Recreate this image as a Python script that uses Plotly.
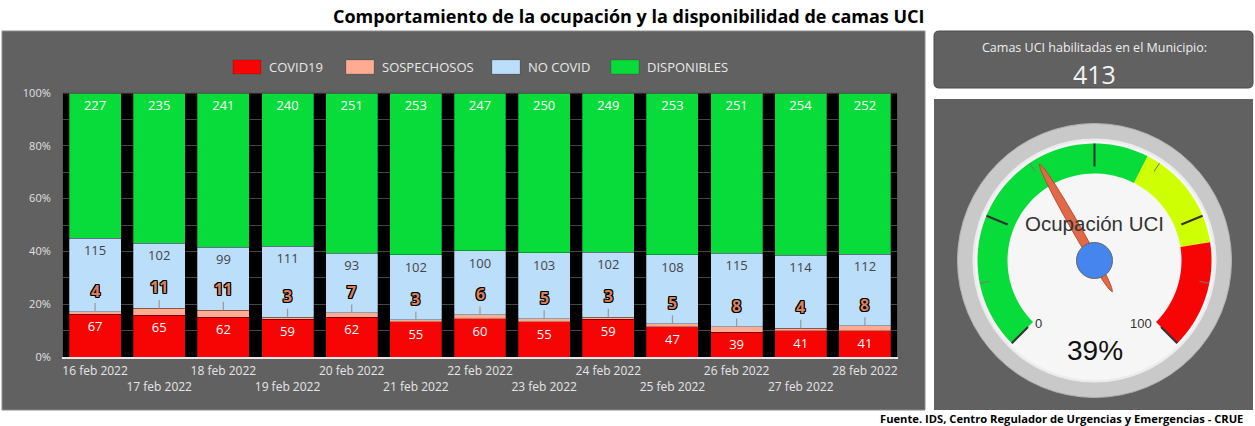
import math
import numpy as np
import plotly.graph_objects as go

# ---------------- data ----------------
fechas = ["16 feb 2022", "17 feb 2022", "18 feb 2022", "19 feb 2022", "20 feb 2022",
          "21 feb 2022", "22 feb 2022", "23 feb 2022", "24 feb 2022", "25 feb 2022",
          "26 feb 2022", "27 feb 2022", "28 feb 2022"]
covid19 = [67, 65, 62, 59, 62, 55, 60, 55, 59, 47, 39, 41, 41]
sospechosos = [4, 11, 11, 3, 7, 3, 6, 5, 3, 5, 8, 4, 8]
no_covid = [115, 102, 99, 111, 93, 102, 100, 103, 102, 108, 115, 114, 112]
disponibles = [227, 235, 241, 240, 251, 253, 247, 250, 249, 253, 251, 254, 252]
series_names = ["COVID19", "SOSPECHOSOS", "NO COVID", "DISPONIBLES"]
y_tick_vals = [0, 20, 40, 60, 80, 100]
y_tick_text = ["0%", "20%", "40%", "60%", "80%", "100%"]
gauge_range = [0, 100]
gauge_bands = [(0, 60), (60, 80), (80, 100)]
gauge_major = [0, 25, 50, 75, 100]
gauge_minor = [12.5, 37.5, 62.5, 87.5]

total_camas = covid19[-1] + sospechosos[-1] + no_covid[-1] + disponibles[-1]
ocupacion = round(100 * (total_camas - disponibles[-1]) / total_camas)

# ---------------- styling ----------------
W, H = 1255, 426
C_RED, C_SAL, C_BLUE, C_GREEN = "#f70404", "#ffab91", "#bbdefb", "#07dc3a"
colors = [C_RED, C_SAL, C_BLUE, C_GREEN]
PANEL = "#616161"
FONT = "Open Sans"


def X(px):
    return px / W


def Y(py):
    return 1 - py / H


fig = go.Figure()
series = [covid19, sospechosos, no_covid, disponibles]
label_colors = ["#ffffff", "#ffffff", "#454545", "#ffffff"]
for name, vals, col, lc in zip(series_names, series, colors, label_colors):
    show_text = name != "SOSPECHOSOS"
    fig.add_trace(go.Bar(
        x=fechas, y=vals, name=name,
        marker=dict(color=col, line=dict(color="rgba(0,0,0,0.35)", width=0.8)),
        text=[str(v) for v in vals] if show_text else None,
        textposition="inside" if show_text else "none",
        insidetextanchor="end", textangle=0,
        textfont=dict(family=FONT, size=13, color=lc),
        hoverinfo="skip",
    ))

shapes = []
annotations = []


def label(text, px, py, size, color="#000000", family=FONT, xanchor="center"):
    annotations.append(dict(text=text, x=X(px), y=Y(py), xref="paper", yref="paper", showarrow=False,
                            xanchor=xanchor, yanchor="middle",
                            font=dict(family=family, size=size, color=color)))


# left panel + plot area background
shapes.append(dict(type="rect", xref="paper", yref="paper", x0=X(2), x1=X(925), y0=Y(410), y1=Y(31),
                   fillcolor=PANEL, line=dict(color="#8c8c8c", width=1), layer="below"))
shapes.append(dict(type="rect", xref="paper", yref="paper", x0=X(63), x1=X(897), y0=Y(357), y1=Y(93),
                   fillcolor="#000000", line=dict(width=0), layer="below"))
shapes.append(dict(type="line", xref="paper", yref="paper", x0=X(63), x1=X(897), y0=Y(93), y1=Y(93),
                   line=dict(color="#555555", width=1)))


def rounded_rect(x0, y0, x1, y1, r):
    rx, ry = r / W, r / H
    a, b, c, d = X(x0), X(x1), Y(y0), Y(y1)  # c top, d bottom (paper)
    return (f"M{a+rx},{c} L{b-rx},{c} Q{b},{c} {b},{c-ry} L{b},{d+ry} Q{b},{d} {b-rx},{d} "
            f"L{a+rx},{d} Q{a},{d} {a},{d+ry} L{a},{c-ry} Q{a},{c} {a+rx},{c} Z")


# top-right info box
shapes.append(dict(type="path", xref="paper", yref="paper", path=rounded_rect(934, 31, 1253, 88, 5),
                   fillcolor=PANEL, line=dict(color="#4a4a4a", width=1)))
label("Camas UCI habilitadas en el Municipio:", 1094, 47, 12.5, "#eeeeee")
label(str(total_camas), 1094, 73.5, 25, "#f2f2f2")

# gauge panel
shapes.append(dict(type="rect", xref="paper", yref="paper", x0=X(934), x1=X(1253), y0=Y(410), y1=Y(99),
                   fillcolor=PANEL, line=dict(width=0)))

cx, cy = 1094.5, 260.5


def gpt(v, r):
    th = math.radians(-135 + 270 * (v - gauge_range[0]) / (gauge_range[1] - gauge_range[0]))
    return cx + r * math.sin(th), cy - r * math.cos(th)


def circle(r, fill, line_color=None, lw=0):
    shapes.append(dict(type="circle", xref="paper", yref="paper",
                       x0=X(cx - r), x1=X(cx + r), y0=Y(cy + r), y1=Y(cy - r),
                       fillcolor=fill, line=dict(color=line_color or fill, width=lw)))


circle(137, "#c9c9c9", "#b3b3b3", 1)
circle(122, "#ececec")
circle(119.5, "#f6f6f6")

band_colors = [C_GREEN, "#cfff03", "#f70404"]
for (a, b), col in zip(gauge_bands, band_colors):
    vs = np.linspace(a, b, 60)
    outer = [gpt(v, 117) for v in vs]
    inner = [gpt(v, 87) for v in vs[::-1]]
    pts = outer + inner
    path = "M" + " L".join(f"{X(px)},{Y(py)}" for px, py in pts) + " Z"
    shapes.append(dict(type="path", xref="paper", yref="paper", path=path, fillcolor=col, line=dict(width=0)))

for v in gauge_major:
    p0, p1 = gpt(v, 94), gpt(v, 117)
    shapes.append(dict(type="line", xref="paper", yref="paper", x0=X(p0[0]), y0=Y(p0[1]), x1=X(p1[0]), y1=Y(p1[1]),
                       line=dict(color="#333333", width=2)))
for v in gauge_minor:
    p0, p1 = gpt(v, 107), gpt(v, 117)
    shapes.append(dict(type="line", xref="paper", yref="paper", x0=X(p0[0]), y0=Y(p0[1]), x1=X(p1[0]), y1=Y(p1[1]),
                       line=dict(color="#777777", width=1)))

label("Ocupación UCI", cx, 223, 20.5, "#333333", "Liberation Sans")
label(f"{ocupacion}%", cx, 350, 28, "#111111", "Liberation Sans")
label(str(gauge_range[0]), 1038, 323, 13, "#333333", "Liberation Sans")
label(str(gauge_range[1]), 1141, 323, 13, "#333333", "Liberation Sans")

# needle
th = math.radians(-135 + 270 * ocupacion / 100)
ux, uy = math.sin(th), -math.cos(th)
nx, ny = math.cos(th), math.sin(th)
ts = np.linspace(-36, 111, 40)
mid, half = (111 - 36) / 2, (111 + 36) / 2
ws = [4.5 * math.sqrt(max(0.0, 1 - ((t - mid) / half) ** 2)) for t in ts]
up = [(cx + ux * t + nx * w, cy + uy * t + ny * w) for t, w in zip(ts, ws)]
lo = [(cx + ux * t - nx * w, cy + uy * t - ny * w) for t, w in zip(ts[::-1], ws[::-1])]
npath = "M" + " L".join(f"{X(px)},{Y(py)}" for px, py in up + lo) + " Z"
shapes.append(dict(type="path", xref="paper", yref="paper", path=npath, fillcolor="#e0694a",
                   line=dict(color="#b84a2c", width=1)))
circle(18, "#4684ee", "#666666", 1)

# legend (custom swatches)
legend_x = [233, 346, 492, 611]
for name, col, lx in zip(series_names, colors, legend_x):
    shapes.append(dict(type="rect", xref="paper", yref="paper", x0=X(lx), x1=X(lx + 28), y0=Y(74), y1=Y(60),
                       fillcolor=col, line=dict(color="rgba(0,0,0,0.25)", width=0.6)))
    label(name, lx + 34, 67, 13, "#e8e8e8", xanchor="left")

# sospechosos labels with leader lines
for f, c, s, n, d in zip(fechas, covid19, sospechosos, no_covid, disponibles):
    tot = c + s + n + d
    annotations.append(dict(x=f, y=100 * (c + s) / tot, xref="x", yref="y", text=f"<b>{s}</b>",
                            showarrow=True, arrowhead=0, arrowwidth=1.2, arrowcolor="#9a9a9a",
                            ax=0, ay=-21, standoff=0, xanchor="center", yanchor="middle",
                            font=dict(family=FONT, size=16, color="#d9805a",
                                      shadow="-1px -1px 0 #000, 1px -1px 0 #000, -1px 1px 0 #000, 1px 1px 0 #000, 0 1px 0 #000, 1px 0 0 #000, -1px 0 0 #000, 0 -1px 0 #000")))

# title & footer
label("<b>Comportamiento de la ocupación y la disponibilidad de camas UCI</b>", 628, 16, 18)
label("<b>Fuente. IDS, Centro Regulador de Urgencias y Emergencias - CRUE</b>", 1245, 418, 11.2, xanchor="right")

ticktext = [f if i % 2 == 0 else "<br>" + f for i, f in enumerate(fechas)]

fig.update_layout(
    template="none",
    width=W, height=H, autosize=False,
    margin=dict(l=0, r=0, t=0, b=0, pad=0, autoexpand=False),
    barmode="stack", barnorm="percent", bargap=0.19,
    paper_bgcolor="#ffffff", plot_bgcolor="#000000",
    showlegend=False,
    font=dict(family=FONT),
    shapes=shapes, annotations=annotations,
    xaxis=dict(domain=[X(63), X(897)], type="category", tickmode="array", tickvals=fechas, ticktext=ticktext,
               tickangle=0, automargin=False, ticklabelstandoff=2,
               tickfont=dict(family=FONT, size=12, color="#e6e6e6"), showgrid=False,
               showline=True, linecolor="#e8e8e8", linewidth=2, ticks="", fixedrange=True),
    yaxis=dict(domain=[Y(357), Y(93)], range=[0, 100], tickmode="array", tickvals=y_tick_vals,
               ticktext=y_tick_text, automargin=False,
               tickfont=dict(family=FONT, size=11, color="#e0e0e0"), ticklabelstandoff=9,
               showgrid=True, gridcolor="#474747", gridwidth=1,
               minor=dict(tickmode="linear", tick0=0, dtick=10, showgrid=True, gridcolor="#474747", gridwidth=1),
               showline=True, linecolor="#555555", mirror=True, zeroline=False, ticks=""),
)

fig.write_html("out.html")
